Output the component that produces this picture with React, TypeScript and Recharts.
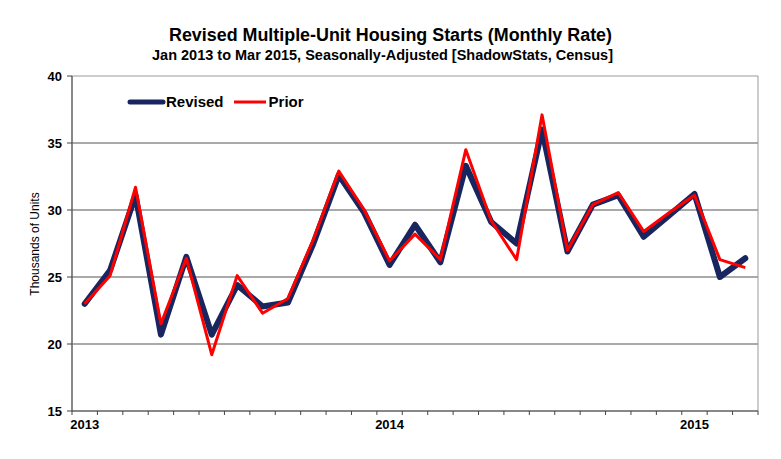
import { LineChart, Line, XAxis, YAxis, CartesianGrid, Legend, ReferenceArea } from "recharts";

const months = [
  "Jan 2013", "Feb 2013", "Mar 2013", "Apr 2013", "May 2013", "Jun 2013",
  "Jul 2013", "Aug 2013", "Sep 2013", "Oct 2013", "Nov 2013", "Dec 2013",
  "Jan 2014", "Feb 2014", "Mar 2014", "Apr 2014", "May 2014", "Jun 2014",
  "Jul 2014", "Aug 2014", "Sep 2014", "Oct 2014", "Nov 2014", "Dec 2014",
  "Jan 2015", "Feb 2015", "Mar 2015",
];

const revised = [
  23.0, 25.5, 31.1, 20.7, 26.5, 20.7, 24.4, 22.8, 23.1, 27.5, 32.6, 29.8,
  25.9, 28.9, 26.1, 33.3, 29.1, 27.5, 36.0, 26.9, 30.4, 31.1, 28.0, 29.6,
  31.2, 25.0, 26.4,
];

const prior = [
  23.0, 25.1, 31.7, 21.5, 26.4, 19.2, 25.1, 22.3, 23.4, 27.8, 32.9, 30.0,
  26.2, 28.2, 26.3, 34.5, 29.2, 26.3, 37.1, 27.0, 30.4, 31.3, 28.4, 29.8,
  31.1, 26.3, 25.7,
];

const yTicks = [15, 20, 25, 30, 35, 40];

const data = months.map((m, i) => ({ idx: i, month: m, revised: revised[i], prior: prior[i] }));

// month boundaries for tick marks, january positions for the year labels
const boundaryTicks = months.map((_, i) => i - 0.5).concat(months.length - 0.5);
const yearTicks = months.map((m, i) => (m.startsWith("Jan") ? i : -1)).filter((i) => i >= 0);
const xDomain = [-0.5, months.length - 0.5];

const FONT = "Arial, 'Liberation Sans', sans-serif";
const NAVY = "#18255F";
const RED = "#FF0000";

function LegendContent() {
  return (
    <div style={{ display: "flex", alignItems: "center", fontFamily: FONT, fontWeight: 700, fontSize: 15, color: "#000", whiteSpace: "nowrap" }}>
      <svg width={39} height={8}>
        <line x1={3} y1={4} x2={36} y2={4} stroke={NAVY} strokeWidth={5} strokeLinecap="round" />
      </svg>
      <span>Revised</span>
      <svg width={34} height={8} style={{ marginLeft: 9 }}>
        <line x1={1} y1={4} x2={33} y2={4} stroke={RED} strokeWidth={3} />
      </svg>
      <span style={{ marginLeft: 2 }}>Prior</span>
    </div>
  );
}

export default function App() {
  return (
    <div style={{ position: "absolute", left: 0, top: 0, width: 781, height: 459, background: "#fff" }}>
      <LineChart width={781} height={459} data={data} margin={{ top: 76, right: 23, left: 0, bottom: 12 }}>
        <CartesianGrid stroke="#555" vertical={false} horizontalValues={[20, 25, 30, 35]} />
        <ReferenceArea x1={xDomain[0]} x2={xDomain[1]} y1={15} y2={40} fill="none" stroke="#999" strokeWidth={1} ifOverflow="visible" />
        <XAxis
          dataKey="idx"
          type="number"
          domain={xDomain}
          ticks={boundaryTicks}
          tickFormatter={() => ""}
          tickSize={4}
          height={6}
          stroke="#444"
          interval={0}
        />
        <XAxis
          xAxisId="years"
          dataKey="idx"
          type="number"
          domain={xDomain}
          ticks={yearTicks}
          tickFormatter={(v) => months[v].slice(4)}
          axisLine={false}
          tickLine={false}
          tickSize={0}
          tickMargin={3}
          height={30}
          interval={0}
          tick={{ fontFamily: FONT, fontSize: 13, fontWeight: 700, fill: "#000" }}
        />
        <YAxis
          domain={[15, 40]}
          ticks={yTicks}
          width={72}
          tickSize={5}
          tickMargin={5}
          stroke="#444"
          interval={0}
          tick={{ fontFamily: FONT, fontSize: 13, fontWeight: 700, fill: "#000" }}
        />
        <Legend
          layout="vertical"
          verticalAlign="middle"
          align="center"
          content={<LegendContent />}
          wrapperStyle={{ left: 127, top: 93, width: "auto", height: "auto" }}
        />
        <Line
          dataKey="revised"
          stroke={NAVY}
          strokeWidth={6}
          dot={false}
          strokeLinejoin="round"
          strokeLinecap="round"
          isAnimationActive={false}
        />
        <Line
          dataKey="prior"
          stroke={RED}
          strokeWidth={3}
          dot={false}
          strokeLinejoin="round"
          isAnimationActive={false}
        />
      </LineChart>
      <svg width={781} height={459} style={{ position: "absolute", left: 0, top: 0, pointerEvents: "none" }}>
        <text x={169} y={41} fontFamily={FONT} fontWeight={700} fontSize={18} textLength={443} lengthAdjust="spacingAndGlyphs">
          Revised Multiple-Unit Housing Starts (Monthly Rate)
        </text>
        <text x={152} y={60} fontFamily={FONT} fontWeight={700} fontSize={15} textLength={461} lengthAdjust="spacingAndGlyphs">
          Jan 2013 to Mar 2015, Seasonally-Adjusted [ShadowStats, Census]
        </text>
        <text
          x={39}
          y={244}
          transform="rotate(-90 39 244)"
          textAnchor="middle"
          fontFamily={FONT}
          fontSize={12}
          fill="#000"
        >
          Thousands of Units
        </text>
      </svg>
    </div>
  );
}
